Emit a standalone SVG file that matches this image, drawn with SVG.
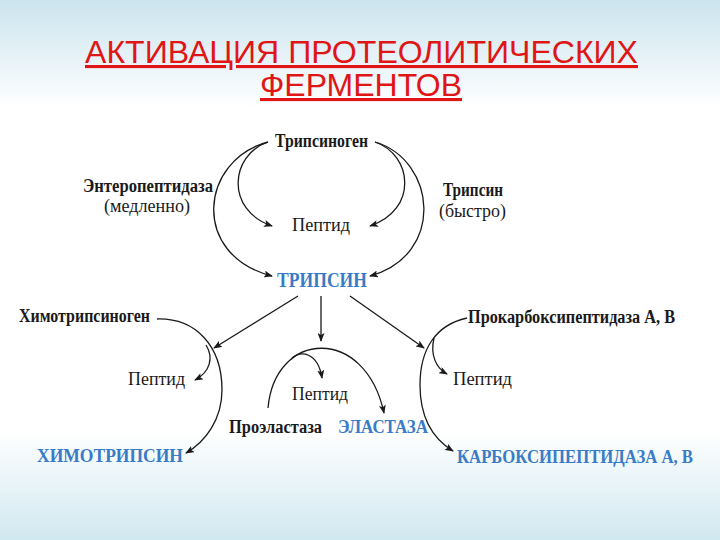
<svg xmlns="http://www.w3.org/2000/svg" width="720" height="540" viewBox="0 0 720 540">
<defs>
<linearGradient id="bg" x1="0" y1="0" x2="0" y2="1">
<stop offset="0" stop-color="#cbe4ee"/>
<stop offset="0.2" stop-color="#ffffff"/>
<stop offset="0.8" stop-color="#ffffff"/>
<stop offset="1" stop-color="#d0e8f0"/>
</linearGradient>
<marker id="ah" markerWidth="9" markerHeight="7" refX="8" refY="3.5" orient="auto" markerUnits="userSpaceOnUse">
<path d="M0,0 L9,3.5 L0,7 L2,3.5 Z" fill="#1a1a1a"/>
</marker>
<style>
.title{font-family:"Liberation Sans",Arial,sans-serif;font-size:31px;fill:#e01515;text-decoration:underline;}
.t{font-family:"Liberation Serif","Times New Roman",serif;font-size:18px;fill:#1a1a1a;}
.b{font-weight:bold;}
.blue{fill:#3a7bc8;font-weight:bold;}
.c{fill:none;stroke:#1a1a1a;stroke-width:1.3;marker-end:url(#ah);}
</style>
</defs>
<rect x="0" y="0" width="720" height="540" fill="url(#bg)"/>
<g id="title">
<text class="title" x="85" y="63" textLength="553" lengthAdjust="spacingAndGlyphs">АКТИВАЦИЯ ПРОТЕОЛИТИЧЕСКИХ</text>
<text class="title" x="260" y="96" textLength="202" lengthAdjust="spacingAndGlyphs">ФЕРМЕНТОВ</text>
</g>
<g id="connectors">
<path class="c" d="M268,142 C230,155 225,210 272,226"/>
<path class="c" d="M268,142 C200,160 190,255 272,276"/>
<path class="c" d="M375,142 C413,155 418,210 370,226"/>
<path class="c" d="M375,142 C436,160 446,255 370,276"/>
<path class="c" d="M298,296 L214,348"/>
<path class="c" d="M321,296 L321,341"/>
<path class="c" d="M350,296 L424,348"/>
<path class="c" d="M157,319 C195,318 222,345 222,390 C222,420 205,442 186,453"/>
<path class="c" d="M206,345 C214,358 210,372 195,380"/>
<path class="c" d="M268,408 C275,330 365,325 384,413"/>
<path class="c" d="M292,358 C300,350 318,352 322,378"/>
<path class="c" d="M467,318 C435,325 420,350 420,385 C420,420 435,440 453,451"/>
<path class="c" d="M434,338 C430,355 436,368 447,374"/>
</g>
<g id="trypsinogen"><text class="t b" x="275" y="147" textLength="93" lengthAdjust="spacingAndGlyphs">Трипсиноген</text></g>
<g id="peptide-top"><text class="t" x="292" y="231" textLength="58" lengthAdjust="spacingAndGlyphs">Пептид</text></g>
<g id="trypsin"><text class="t blue" x="277" y="287" style="font-size:20px" textLength="90" lengthAdjust="spacingAndGlyphs">ТРИПСИН</text></g>
<g id="enteropeptidase">
<text class="t b" x="83" y="192" textLength="130" lengthAdjust="spacingAndGlyphs">Энтеропептидаза</text>
<text class="t" x="104" y="212" textLength="86" lengthAdjust="spacingAndGlyphs">(медленно)</text>
</g>
<g id="trypsin-fast">
<text class="t b" x="443" y="196" textLength="60" lengthAdjust="spacingAndGlyphs">Трипсин</text>
<text class="t" x="439" y="217" textLength="67" lengthAdjust="spacingAndGlyphs">(быстро)</text>
</g>
<g id="chymotrypsinogen"><text class="t b" x="19" y="322" textLength="131" lengthAdjust="spacingAndGlyphs">Химотрипсиноген</text></g>
<g id="peptide-left"><text class="t" x="128" y="385" textLength="57" lengthAdjust="spacingAndGlyphs">Пептид</text></g>
<g id="chymotrypsin"><text class="t blue" x="37" y="462" textLength="146" lengthAdjust="spacingAndGlyphs">ХИМОТРИПСИН</text></g>
<g id="peptide-mid"><text class="t" x="292" y="400" textLength="56" lengthAdjust="spacingAndGlyphs">Пептид</text></g>
<g id="proelastase"><text class="t b" x="229" y="433" textLength="93" lengthAdjust="spacingAndGlyphs">Проэластаза</text></g>
<g id="elastase"><text class="t blue" x="338" y="433" textLength="90" lengthAdjust="spacingAndGlyphs">ЭЛАСТАЗА</text></g>
<g id="procarboxypeptidase"><text class="t b" x="468" y="323" textLength="207" lengthAdjust="spacingAndGlyphs">Прокарбоксипептидаза А, В</text></g>
<g id="peptide-right"><text class="t" x="453" y="385" textLength="59" lengthAdjust="spacingAndGlyphs">Пептид</text></g>
<g id="carboxypeptidase"><text class="t blue" x="457" y="463" textLength="236" lengthAdjust="spacingAndGlyphs">КАРБОКСИПЕПТИДАЗА А, В</text></g>
</svg>
